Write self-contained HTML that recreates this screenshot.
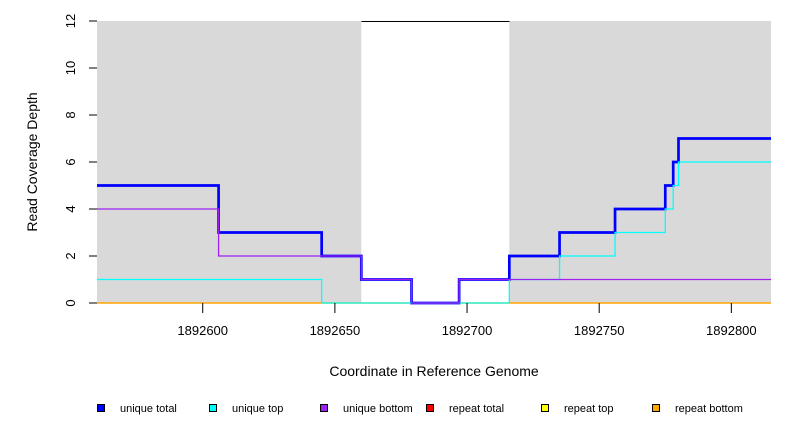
<!DOCTYPE html>
<html><head><meta charset="utf-8"><style>
body{margin:0;background:#fff;font-family:"Liberation Sans",sans-serif}
svg text{font-family:"Liberation Sans",sans-serif}
</style></head><body>
<svg width="792" height="432" id="c">
<g id="plot"></g>
</svg>
<script>
const xDomain=[1892560,1892815];
const yDomain=[0,12];
const grayRegions=[[1892560,1892660],[1892716,1892815]];
const xTicks=[1892600,1892650,1892700,1892750,1892800];
const yTicks=[0,2,4,6,8,10,12];
const totalBreaks=[1892560,1892606,1892645,1892660,1892679,1892697,1892716,1892735,1892756,1892775,1892778,1892780,1892815];
const totalVals=[5,3,2,1,0,1,2,3,4,5,6,7];
const topBreaks=[1892560,1892645,1892716,1892735,1892756,1892775,1892778,1892780,1892815];
const topVals=[1,0,1,2,3,4,5,6];
const bottomBreaks=[1892560,1892606,1892660,1892679,1892697,1892815];
const bottomVals=[4,2,1,0,1];
const legendLabels=["unique total","unique top","unique bottom","repeat total","repeat top","repeat bottom"];
const legendColors=["#0000ff","#00ffff","#a020f0","#ff0000","#ffff00","#ffa500"];
const L=97,R=771,T=21,B=303;
const sx=v=>L+(v-xDomain[0])/(xDomain[1]-xDomain[0])*(R-L);
const sy=v=>B-(v-yDomain[0])/(yDomain[1]-yDomain[0])*(B-T);
const NS="http://www.w3.org/2000/svg";
const g=document.getElementById('plot');
function mk(t,a,txt){const e=document.createElementNS(NS,t);for(const k in a)e.setAttribute(k,a[k]);if(txt!=null)e.textContent=txt;g.appendChild(e);return e;}
grayRegions.forEach(r=>{
  const e=mk('rect',{x:sx(r[0]),y:T,width:sx(r[1])-sx(r[0]),height:B-T,fill:'#d9d9d9'});
  
  
});
const tl=mk('line',{x1:sx(grayRegions[0][1]),x2:sx(grayRegions[1][0]),y1:T+0.5,y2:T+0.5,stroke:'#000','stroke-width':1,'shape-rendering':'crispEdges'});


function step(br,vals,col,w,name){
  let d='M'+sx(br[0])+','+sy(vals[0]);
  for(let i=0;i<vals.length;i++){d+=' L'+sx(br[i+1])+','+sy(vals[i]);if(i+1<vals.length)d+=' L'+sx(br[i+1])+','+sy(vals[i+1]);}
  const e=mk('path',{d:d,fill:'none',stroke:col,'stroke-width':w});
  
  
}
const ob=mk('line',{x1:L,x2:R,y1:B,y2:B,stroke:'#ffa500','stroke-width':1.5});


step(totalBreaks,totalVals,'#0000ff',2.7,'unique-total-line');
step(topBreaks,topVals,'#00ffff',1.3,'unique-top-line');
step(bottomBreaks,bottomVals,'#a020f0',1.3,'unique-bottom-line');
yTicks.forEach(v=>{
  const l=mk('line',{x1:89,x2:97,y1:sy(v),y2:sy(v),stroke:'#000'});
  
  
  const t=mk('text',{x:0,y:0,transform:`translate(75,${sy(v)}) rotate(-90)`,'text-anchor':'middle','font-size':13},v);
  
  
});
xTicks.forEach(v=>{
  const l=mk('line',{x1:sx(v),x2:sx(v),y1:B,y2:B+10,stroke:'#000'});
  
  
  const t=mk('text',{x:sx(v),y:335,'text-anchor':'middle','font-size':13},v);
  
  
});
const xt=mk('text',{x:434,y:376,'text-anchor':'middle','font-size':14},'Coordinate in Reference Genome');


const yt=mk('text',{x:0,y:0,transform:'translate(37,162) rotate(-90)','text-anchor':'middle','font-size':14},'Read Coverage Depth');


const lx=[97,209,320,426,541,652];
legendLabels.forEach((s,i)=>{
  const r=mk('rect',{x:lx[i]+0.5,y:404.5,width:7,height:7,fill:legendColors[i],stroke:'#000','stroke-width':1});
  
  
  const t=mk('text',{x:lx[i]+23,y:412,'font-size':11},s);
  
  
});
</script>
</body></html>
